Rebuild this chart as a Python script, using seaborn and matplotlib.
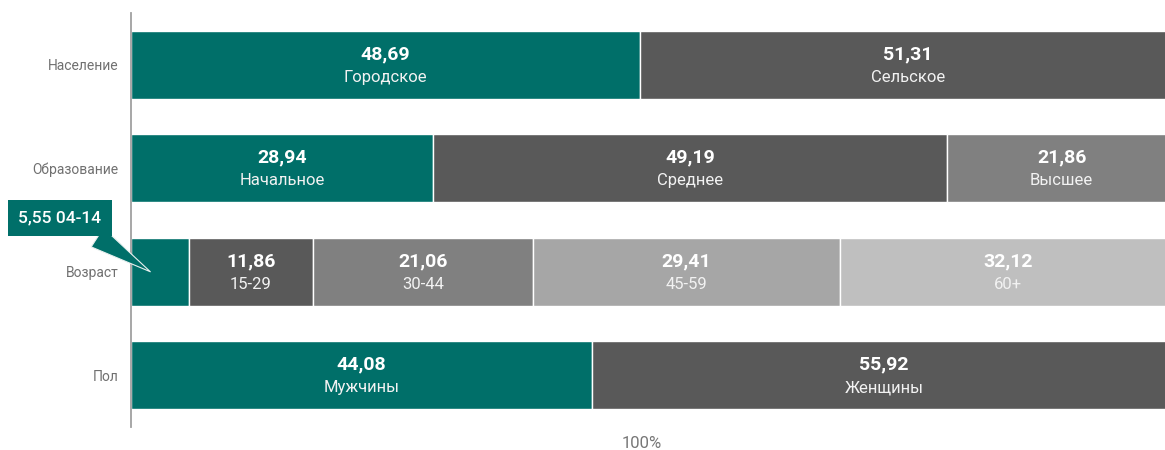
import matplotlib
matplotlib.use("Agg")
import matplotlib.pyplot as plt
import seaborn as sns
import pandas as pd

# ---- data ----
categories = ["Население", "Образование", "Возраст", "Пол"]
pop_values = [48.69, 51.31]
pop_labels = ["Городское", "Сельское"]
edu_values = [28.94, 49.19, 21.86]
edu_labels = ["Начальное", "Среднее", "Высшее"]
age_values = [5.55, 11.86, 21.06, 29.41, 32.12]
age_labels = ["04-14", "15-29", "30-44", "45-59", "60+"]
sex_values = [44.08, 55.92]
sex_labels = ["Мужчины", "Женщины"]
axis_label = "100%"

segment_colors = ["#006f69", "#595959", "#808080", "#a6a6a6", "#bfbfbf"]

rows = []
for cat, vals, labs in zip(categories,
                           [pop_values, edu_values, age_values, sex_values],
                           [pop_labels, edu_labels, age_labels, sex_labels]):
    left = 0.0
    for j, (v, l) in enumerate(zip(vals, labs)):
        rows.append(dict(cat=cat, idx=j, value=v, label=l, left=left))
        left += v
df = pd.DataFrame(rows)

sns.set_theme(style="white")
plt.rcParams["font.family"] = ["Roboto", "DejaVu Sans"]

fig = plt.figure(figsize=(11.65, 4.5), dpi=100)
ax = fig.add_axes([131 / 1165, 23 / 450, 1045 / 1165, 414 / 450])

bar_h = 0.656
for _, r in df.iterrows():
    sns.barplot(data=pd.DataFrame([r]), x="value", y="cat", order=categories,
                orient="y", left=r["left"], color=segment_colors[r["idx"]],
                saturation=1, width=bar_h, edgecolor="white", linewidth=1,
                ax=ax)

ax.set_xlim(0, 100)
ax.set_ylim(len(categories) - 0.5, -0.5)

for _, r in df.iterrows():
    y = categories.index(r["cat"])
    xc = r["left"] + r["value"] / 2
    if r["cat"] == "Возраст" and r["idx"] == 0:
        continue
    val_txt = f"{r['value']:.2f}".replace(".", ",")
    ax.annotate(val_txt, (xc, y), xytext=(0, 7.5), textcoords="offset points",
                ha="center", va="center", color="white", fontsize=14,
                fontweight="bold")
    ax.annotate(r["label"], (xc, y), xytext=(0, -9), textcoords="offset points",
                ha="center", va="center", color="#f2f2f2", fontsize=12)

# callout for the small first age segment
first = df[(df["cat"] == "Возраст") & (df["idx"] == 0)].iloc[0]
call_txt = f"{first['value']:.2f}".replace(".", ",") + " " + first["label"]
ax.annotate(call_txt, xy=(first["value"] / 3, categories.index("Возраст")),
            xycoords="data", xytext=(60, 450 - 218), textcoords="figure pixels",
            ha="center", va="center", color="white", fontsize=12.5,
            fontweight="medium",
            bbox=dict(boxstyle="square,pad=0.6", fc=segment_colors[0], ec="none"),
            arrowprops=dict(arrowstyle="wedge,tail_width=1.3,shrink_factor=0.5",
                            fc=segment_colors[0], ec="#e8f0ef", lw=0.8,
                            relpos=(0.7, 0.1), shrinkB=0),
            annotation_clip=False)

ax.set_xlabel("")
ax.set_ylabel("")
ax.set_xticks([])
ax.tick_params(axis="y", length=0, pad=9, labelsize=10, labelcolor="#707070")
for s in ["top", "right", "bottom"]:
    ax.spines[s].set_visible(False)
ax.spines["left"].set_color("#a0a0a0")
ax.spines["left"].set_linewidth(1.3)

fig.text(642 / 1165, 1 - 443 / 450, axis_label, ha="center", va="center",
         color="#777777", fontsize=12)

fig.savefig("out.png", dpi=100)
